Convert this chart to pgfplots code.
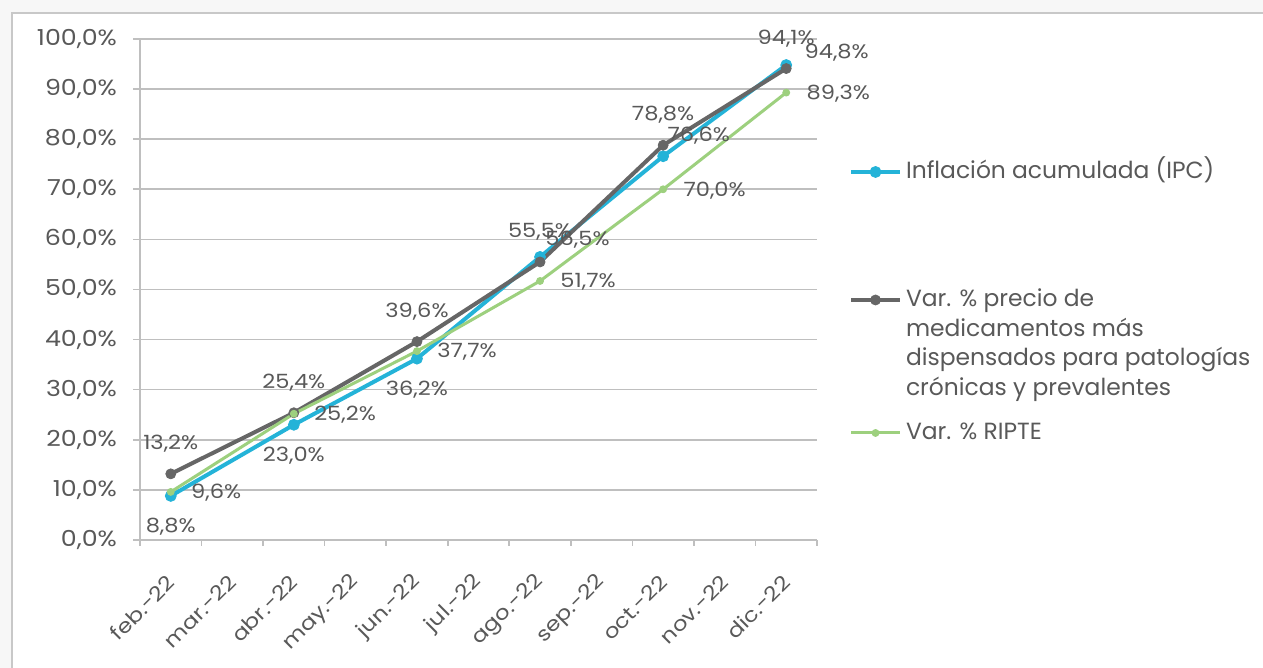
\documentclass[border=0pt]{standalone}
\usepackage{pgfplots}
\pgfplotsset{compat=1.18}
\usepackage{fontspec}
\setmainfont{Poppins}
\newfontfamily\tickfont[FakeStretch=1.15]{Poppins}
\definecolor{bgc}{HTML}{F7F7F7}
\definecolor{framec}{HTML}{C8C8C8}
\definecolor{gridc}{HTML}{BFBFBF}
\definecolor{labc}{HTML}{595959}
\definecolor{cyanc}{HTML}{24B3D8}
\definecolor{grayc}{HTML}{666666}
\definecolor{greenc}{HTML}{9DD07E}

\pgfplotsset{
  /pgf/number format/assume math mode=true,
  lbl/.style={
    draw=none, mark=none, forget plot,
    nodes near coords={\pgfmathprintnumber[fixed,fixed zerofill,precision=1,use comma]{\pgfplotspointmeta}\%},
    point meta=y,
    every node near coord/.append style={inner sep=0pt,
      font=\tickfont\fontsize{9.8}{12}\selectfont, text=labc},
  },
}

\begin{document}
\begin{tikzpicture}[x=1pt,y=1pt]
\useasboundingbox (0,0) rectangle (631.5,334);
\fill[bgc] (0,0) rectangle (631.5,334);
\filldraw[fill=white,draw=framec,line width=1pt] (6,-20) rectangle (660,327.5);
\begin{axis}[
  at={(70pt,64pt)}, anchor=south west,
  scale only axis, width=338.5pt, height=250.5pt,
  xmin=-0.5, xmax=10.5, ymin=0, ymax=100,
  axis x line*=bottom, axis y line*=left,
  axis line style={draw=gridc, line width=0.8pt, -},
  xtick={0,1,2,3,4,5,6,7,8,9,10},
  xticklabels={feb.-22,mar.-22,abr.-22,may.-22,jun.-22,jul.-22,ago.-22,sep.-22,oct.-22,nov.-22,dic.-22},
  major x tick style={draw=none},
  minor xtick={-0.5,0.5,1.5,2.5,3.5,4.5,5.5,6.5,7.5,8.5,9.5,10.5},
  minor tick length=3pt,
  major tick length=3.5pt,
  tick align=outside,
  ytick={0,10,20,30,40,50,60,70,80,90,100},
  ymajorgrids,
  major grid style={draw=gridc, line width=0.8pt},
  y tick style={draw=gridc, line width=0.8pt},
  minor x tick style={draw=gridc, line width=0.8pt},
  yticklabel={\pgfmathprintnumber[fixed,fixed zerofill,precision=1,use comma]{\tick}\%},
  tick label style={font=\tickfont\fontsize{11}{13}\selectfont, text=labc},
  yticklabel style={xshift=-4.5pt},
  xticklabel style={font=\tickfont\fontsize{10}{12}\selectfont, xshift=2.55pt, yshift=-13.5pt, rotate=45, anchor=east},
  legend style={at={(axis description cs:1.0473,0.7625)}, anchor=north west,
    draw=none, fill=none, inner sep=0pt, outer sep=0pt, row sep=0pt, column sep=0pt,
    font=\fontsize{11.7}{14.7}\selectfont, text=labc,
    cells={anchor=base west, inner sep=0pt, text height=8.5pt}},
  legend image code/.code={\draw[mark repeat=2,mark phase=2,#1] plot coordinates {(0pt,3.5pt)(12.25pt,3.5pt)(24.5pt,3.5pt)};},
]
\addplot[color=cyanc, line width=2pt, line join=round, mark=*, mark size=2.75pt,
  mark options={fill=cyanc, draw=cyanc, line width=0.4pt}]
  coordinates {(0,8.8) (2,23.0) (4,36.2) (6,56.5) (8,76.6) (10,94.8)};
\addlegendentry[text depth=51.5pt]{Inflación acumulada (IPC)}
\addplot[color=grayc, line width=2pt, line join=round, mark=*, mark size=2.5pt,
  mark options={fill=grayc, draw=grayc, line width=0.4pt}]
  coordinates {(0,13.2) (2,25.4) (4,39.6) (6,55.5) (8,78.8) (10,94.1)};
\addlegendentry[text depth=54pt]{\parbox[t]{220pt}{Var. \% precio de\\medicamentos más\\dispensados para patologías\\crónicas y prevalentes}}
\addplot[color=greenc, line width=1.5pt, line join=round, mark=*, mark size=1.75pt,
  mark options={fill=greenc, draw=greenc, line width=0.4pt}]
  coordinates {(0,9.6) (2,25.2) (4,37.7) (6,51.7) (8,70.0) (10,89.3)};
\addlegendentry{Var. \% RIPTE}
% labels: IPC
\addplot[lbl, every node near coord/.append style={anchor=center, yshift=-15.5pt}]
  coordinates {(0,8.8) (2,23.0) (4,36.2)};
\addplot[lbl, every node near coord/.append style={anchor=west, xshift=2.5pt, yshift=8.5pt}]
  coordinates {(6,56.5)};
\addplot[lbl, every node near coord/.append style={anchor=west, xshift=2pt, yshift=10.5pt}]
  coordinates {(8,76.6)};
\addplot[lbl, every node near coord/.append style={anchor=west, xshift=9pt, yshift=6pt}]
  coordinates {(10,94.8)};
% labels: medicamentos
\addplot[lbl, every node near coord/.append style={anchor=center, yshift=15pt}]
  coordinates {(0,13.2) (2,25.4) (4,39.6) (6,55.5) (8,78.8) (10,94.1)};
% labels: RIPTE
\addplot[lbl, every node near coord/.append style={anchor=west, xshift=10pt, yshift=-0.5pt}]
  coordinates {(0,9.6) (2,25.2) (4,37.7) (6,51.7) (8,70.0) (10,89.3)};
\end{axis}
\end{tikzpicture}
\end{document}
